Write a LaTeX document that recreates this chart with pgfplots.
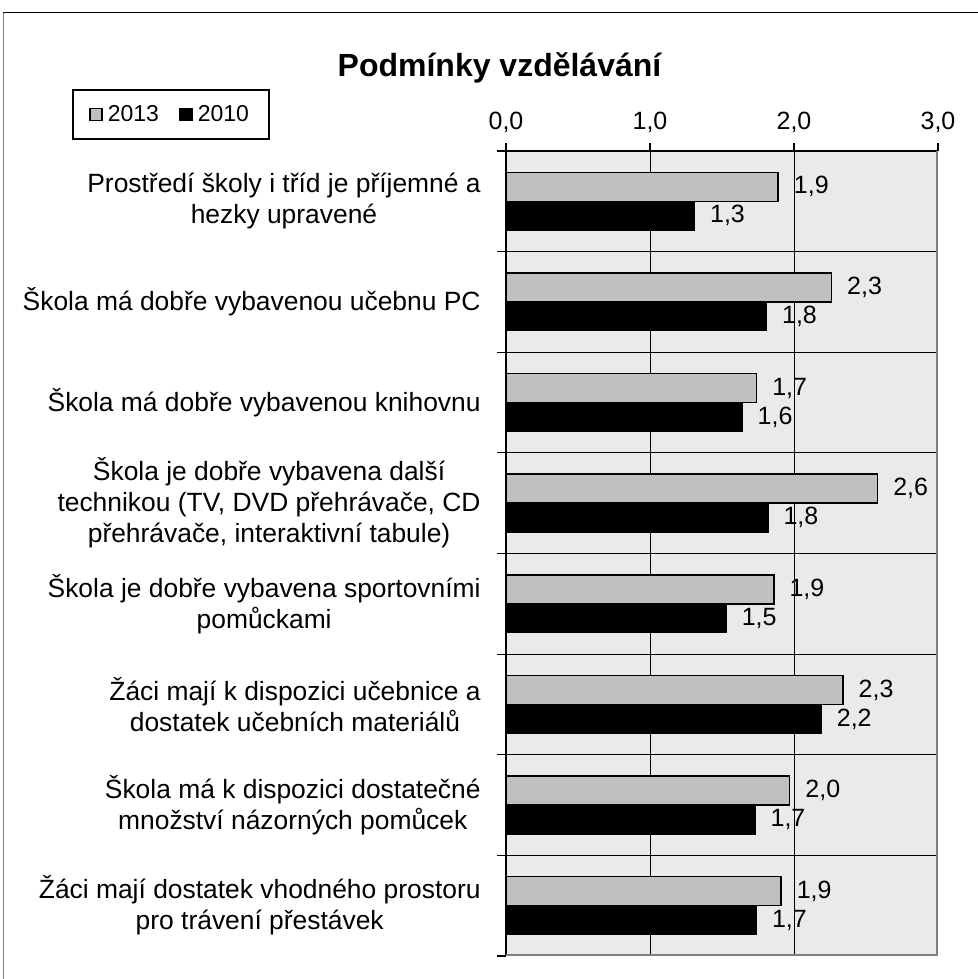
\documentclass[border=0pt]{standalone}
\usepackage{fontspec}
\setmainfont{Liberation Sans}
\usepackage{pgfplots}
\pgfplotsset{compat=1.18}
\definecolor{barA}{HTML}{C0C0C0}
\definecolor{plotbg}{HTML}{EAEAEA}
\definecolor{rborder}{HTML}{808080}
\begin{document}
\begin{tikzpicture}
\useasboundingbox (0,0) rectangle (489pt,-489.5pt);
\draw[line width=0.6pt] (1.5pt,-6.3pt) -- (489pt,-6.3pt);
\draw[line width=0.5pt, gray] (1.5pt,-6.3pt) -- (1.5pt,-489.5pt);
\node[font=\fontsize{16}{19}\selectfont\bfseries, anchor=base] at (249.75pt,-38.3pt) {Podmínky vzdělávání};
\begin{axis}[
  at={(253pt,-75.5pt)}, anchor=north west,
  width=216pt, height=402.5pt, scale only axis,
  xbar, bar width=14.5pt,
  xmin=0, xmax=3, ymin=-0.5, ymax=7.5,
  separate axis lines,
  axis x line*=top, axis y line*=left,
  axis line style={line width=0.8pt, -},
  axis background/.style={fill=plotbg},
  /pgf/number format/use comma,
  /pgf/number format/fixed,
  /pgf/number format/fixed zerofill,
  /pgf/number format/precision=1,
  /pgf/number format/assume math mode=true,
  xtick={0,1,2,3},
  tick align=outside,
  major tick length=4pt,
  minor tick length=4.5pt,
  xticklabel style={font=\fontsize{12.5}{15}\selectfont, inner sep=0pt, yshift=5pt},
  xmajorgrids,
  major grid style={black, line width=0.5pt},
  ytick={0,...,7},
  minor ytick={-0.5,0.5,...,7.5},
  yminorgrids,
  minor grid style={black, line width=0.5pt},
  major y tick style={draw=none},
  minor y tick style={black, line width=0.6pt},
  x tick style={black, line width=0.6pt},
  yticklabel style={align=center, font=\fontsize{13.2}{15.5}\selectfont, inner sep=0pt, xshift=-8.5pt},
  yticklabels={
    {Žáci mají dostatek vhodného prostoru\\pro trávení přestávek},
    {Škola má k dispozici dostatečné\\množství názorných pomůcek},
    {Žáci mají k dispozici učebnice a\\dostatek učebních materiálů},
    {Škola je dobře vybavena sportovními\\pomůckami},
    {Škola je dobře vybavena další\\technikou (TV, DVD přehrávače, CD\\přehrávače, interaktivní tabule)},
    {Škola má dobře vybavenou knihovnu},
    {Škola má dobře vybavenou učebnu PC},
    {Prostředí školy i tříd je příjemné a\\hezky upravené}
  },
  point meta=x,
  nodes near coords,
  every node near coord/.append style={font=\fontsize{12.5}{15}\selectfont, anchor=west, inner sep=0pt, xshift=7.5pt, black},
  legend columns=2,
  legend style={at={(-1.0046,1.077)}, anchor=north west, draw=black, line width=1pt,
    font=\fontsize{11.5}{13.5}\selectfont, inner xsep=8pt, inner ysep=5.5pt,
    /tikz/every even column/.append style={column sep=8pt}},
  legend image code/.code={\path[#1, draw=black, line width=0.8pt] (0pt,-3pt) rectangle (6pt,3pt); \path[draw=none, fill=none] (0pt,0pt) -- (7pt,0pt);},
]
\addplot[fill=barA, draw=black, line width=0.75pt, bar shift=7.25pt] coordinates {
  (1.91,0) (1.97,1) (2.34,2) (1.86,3) (2.58,4) (1.74,5) (2.26,6) (1.89,7)
};
\addplot[fill=black, draw=black, line width=0.5pt, bar shift=-7.25pt] coordinates {
  (1.74,0) (1.73,1) (2.19,2) (1.53,3) (1.82,4) (1.64,5) (1.81,6) (1.31,7)
};
\legend{2013,2010}
\draw[rborder, line width=1.6pt] (rel axis cs:0,0) -- (rel axis cs:1,0) -- (rel axis cs:1,1);
\end{axis}
\end{tikzpicture}
\end{document}
